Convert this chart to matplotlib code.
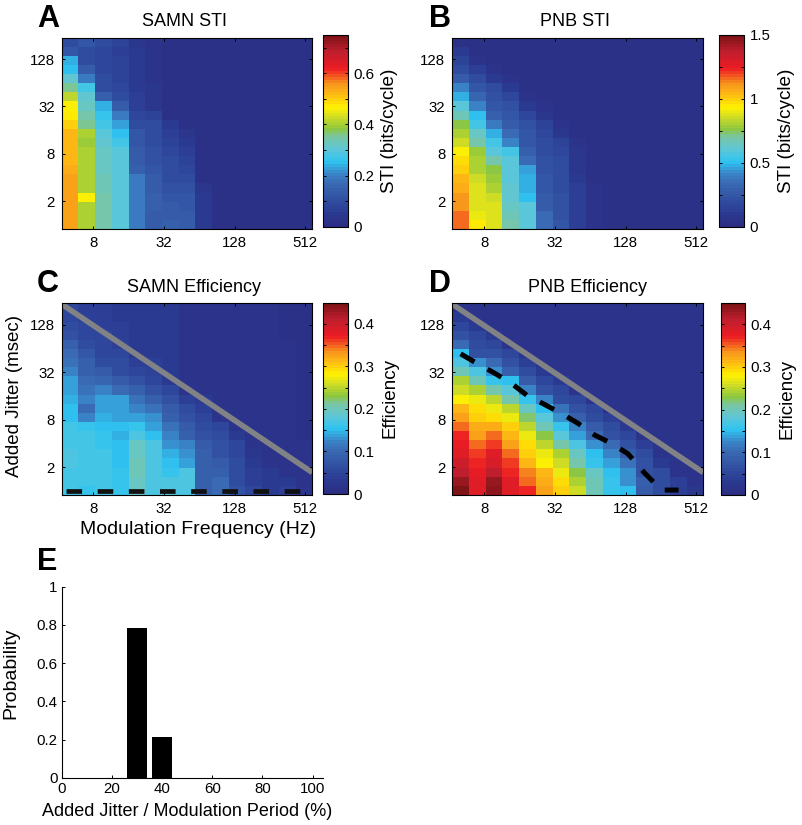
import numpy as np
import matplotlib
matplotlib.use('Agg')
import matplotlib.pyplot as plt
from matplotlib.colors import LinearSegmentedColormap
from matplotlib.ticker import NullLocator, FixedLocator, FixedFormatter

plt.rcParams['font.family'] = ['Liberation Sans', 'DejaVu Sans']

W, H = 803, 825

# heat map values, one list per frequency column, top row first
samn_sti = [
    [.10, .12, .24, .25, .31, .36, .42, .46, .48, .50, .52, .52, .52, .52, .53, .54, .55, .55, .55, .55, .55],
    [.12, .10, .10, .13, .19, .27, .31, .32, .34, .36, .40, .39, .41, .41, .41, .41, .41, .46, .41, .41, .41],
    [.10, .09, .09, .09, .10, .10, .15, .24, .26, .28, .30, .31, .32, .32, .32, .33, .33, .34, .35, .35, .35],
    [.08, .07, .08, .08, .08, .09, .10, .14, .19, .23, .25, .28, .30, .30, .30, .30, .30, .30, .30, .30, .30],
    [.04, .05, .05, .05, .05, .05, .06, .07, .09, .10, .12, .12, .13, .14, .15, .19, .19, .19, .19, .19, .19],
    [.03, .03, .03, .03, .03, .04, .04, .04, .08, .10, .10, .10, .11, .11, .12, .13, .14, .15, .15, .13, .13],
    [.02, .02, .02, .02, .02, .02, .02, .02, .02, .05, .07, .08, .09, .10, .10, .10, .11, .12, .13, .14, .15],
    [.02, .02, .02, .02, .02, .02, .02, .02, .02, .02, .04, .05, .07, .08, .09, .10, .11, .12, .12, .13, .14],
    [.02, .02, .02, .02, .02, .02, .02, .02, .02, .02, .02, .02, .02, .02, .02, .02, .04, .05, .05, .05, .05],
    [.02] * 21, [.02] * 21, [.02] * 21, [.02] * 21, [.02] * 21, [.02] * 21,
]
pnb_sti = [
    [.03, .10, .15, .20, .27, .42, .47, .60, .66, .75, .82, .86, .92, .97, 1.0, 1.04, 1.07, 1.11, 1.12, 1.16, 1.16],
    [.03, .04, .06, .13, .20, .25, .32, .42, .50, .55, .65, .70, .78, .80, .82, .85, .88, .89, .89, .90, .94],
    [.03, .03, .03, .05, .10, .20, .22, .24, .30, .38, .48, .55, .60, .68, .75, .78, .82, .85, .88, .88, .88],
    [.03, .03, .03, .03, .05, .10, .17, .22, .25, .28, .34, .42, .55, .60, .60, .60, .62, .63, .65, .67, .69],
    [.03, .03, .03, .03, .03, .03, .05, .10, .18, .22, .24, .25, .30, .35, .45, .47, .47, .50, .60, .60, .60],
    [.03, .03, .03, .03, .03, .03, .03, .05, .08, .15, .18, .20, .20, .22, .23, .25, .25, .27, .27, .33, .33],
    [.03, .03, .03, .03, .03, .03, .03, .03, .03, .05, .09, .16, .18, .19, .20, .20, .20, .22, .22, .23, .25],
    [.03, .03, .03, .03, .03, .03, .03, .03, .03, .03, .03, .06, .08, .08, .08, .10, .12, .12, .12, .13, .13],
    [.03, .03, .03, .03, .03, .03, .03, .03, .03, .03, .03, .03, .03, .03, .03, .03, .05, .05, .05, .06, .06],
    [.03] * 21, [.03] * 21, [.03] * 21, [.03] * 21, [.03] * 21, [.03] * 21,
]
samn_eff = [
    [.05, .05, .06, .07, .085, .10, .11, .12, .135, .14, .145, .15, .15, .165, .165, .165, .17, .175, .165, .165, .165],
    [.04, .04, .05, .05, .06, .075, .085, .09, .10, .11, .12, .10, .12, .155, .165, .165, .165, .165, .165, .165, .16],
    [.04, .04, .04, .05, .05, .055, .06, .08, .095, .125, .14, .14, .145, .15, .155, .16, .165, .165, .165, .165, .165],
    [.035, .035, .04, .04, .04, .05, .06, .06, .08, .10, .135, .14, .14, .15, .145, .15, .15, .15, .155, .16, .16],
    [.03, .03, .035, .035, .035, .035, .04, .05, .07, .09, .11, .12, .14, .155, .17, .19, .19, .20, .20, .195, .19],
    [.03, .03, .03, .03, .03, .035, .04, .045, .05, .07, .09, .11, .13, .14, .15, .17, .175, .175, .17, .17, .17],
    [.03, .03, .03, .03, .03, .03, .03, .03, .035, .05, .07, .08, .09, .11, .12, .13, .145, .15, .16, .17, .17],
    [.015, .015, .015, .015, .015, .015, .015, .015, .02, .02, .04, .06, .07, .08, .09, .12, .13, .14, .175, .175, .175],
    [.015, .015, .015, .015, .015, .015, .015, .015, .015, .015, .03, .04, .05, .06, .07, .08, .09, .09, .085, .085, .085],
    [.015, .015, .015, .015, .015, .015, .015, .015, .015, .015, .015, .015, .02, .05, .06, .07, .07, .08, .09, .10, .10],
    [.015, .015, .015, .015, .015, .015, .015, .015, .015, .015, .015, .015, .015, .02, .035, .05, .05, .06, .06, .06, .07],
    [.015, .015, .015, .015, .015, .015, .015, .015, .015, .015, .015, .015, .015, .015, .015, .02, .025, .03, .04, .04, .05],
    [.015, .015, .015, .015, .015, .015, .015, .015, .015, .015, .015, .015, .015, .015, .015, .015, .015, .02, .03, .035, .035],
    [.01, .01, .01, .01, .015, .015, .015, .015, .015, .015, .015, .015, .015, .015, .015, .015, .015, .015, .02, .03, .04],
    [.01, .01, .01, .01, .01, .01, .01, .01, .01, .01, .01, .01, .01, .01, .01, .015, .015, .015, .015, .015, .02],
]
pnb_eff = [
    [.02, .03, .05, .065, .10, .15, .17, .20, .24, .26, .28, .31, .33, .35, .37, .375, .385, .40, .41, .43, .45],
    [.015, .015, .03, .05, .06, .07, .13, .17, .20, .24, .27, .29, .30, .32, .33, .35, .36, .37, .375, .38, .38],
    [.015, .015, .015, .03, .05, .07, .10, .13, .16, .21, .25, .27, .29, .32, .35, .36, .38, .39, .41, .43, .44],
    [.015, .015, .015, .015, .02, .05, .07, .09, .15, .18, .21, .25, .27, .30, .31, .33, .35, .36, .37, .38, .38],
    [.015, .015, .015, .015, .015, .02, .04, .06, .08, .12, .16, .19, .22, .25, .27, .29, .30, .31, .34, .35, .37],
    [.015, .015, .015, .015, .015, .015, .02, .03, .05, .07, .12, .15, .18, .20, .23, .25, .27, .28, .31, .32, .33],
    [.015, .015, .015, .015, .015, .015, .015, .015, .03, .05, .06, .11, .13, .16, .18, .21, .24, .26, .27, .29, .30],
    [.015, .015, .015, .015, .015, .015, .015, .015, .015, .02, .05, .07, .09, .12, .14, .17, .19, .21, .23, .24, .26],
    [.015, .015, .015, .015, .015, .015, .015, .015, .015, .015, .02, .05, .06, .08, .10, .13, .15, .16, .19, .20, .20],
    [.015, .015, .015, .015, .015, .015, .015, .015, .015, .015, .015, .02, .04, .06, .07, .10, .12, .14, .15, .16, .16],
    [.015, .015, .015, .015, .015, .015, .015, .015, .015, .015, .015, .015, .015, .03, .05, .07, .08, .11, .13, .13, .15],
    [.015, .015, .015, .015, .015, .015, .015, .015, .015, .015, .015, .015, .015, .015, .02, .04, .06, .07, .07, .09, .08],
    [.015, .015, .015, .015, .015, .015, .015, .015, .015, .015, .015, .015, .015, .015, .015, .02, .02, .03, .06, .06, .06],
    [.015, .015, .015, .015, .015, .015, .015, .015, .015, .015, .015, .015, .015, .015, .015, .015, .015, .015, .02, .04, .04],
    [.015, .015, .015, .015, .015, .015, .015, .015, .015, .015, .015, .015, .015, .015, .015, .015, .015, .015, .015, .015, .025],
]

samn_thresh_freq = [4.7, 461]
samn_thresh_jitter = [1.0, 1.0]
pnb_thresh_freq = [5.06, 7.03, 9.75, 13.5, 18.8, 26, 36.2, 50.2, 69.7, 96.7, 134, 186, 258, 362]
pnb_thresh_jitter = [54.6, 41, 31.3, 23.4, 16, 12.5, 9.6, 7.2, 5.1, 4.0, 2.95, 1.68, 1.02, 1.02]

bar_x = [30, 40]
bar_p = [.785, .215]

freq_ticks = [8, 32, 128, 512]
jitter_ticks = [2, 8, 32, 128]

cmap = LinearSegmentedColormap.from_list('cmyk_jet', [
    (0.0, '#2b2e83'), (0.06, '#2b3990'), (0.12, '#2f4a9e'), (0.22, '#3a69b2'),
    (0.275, '#3a85c8'), (0.337, '#2ec4f1'), (0.4, '#5cc6d8'), (0.47, '#79c6a4'),
    (0.51, '#8cc63f'), (0.58, '#d7df23'), (0.625, '#fff200'), (0.695, '#fdb913'),
    (0.75, '#f7941d'), (0.83, '#ed1c24'), (0.92, '#be1e2d'), (1.0, '#7f1416')], N=64)

xedges = np.logspace(2.104, 9.198, 16, base=2)
yedges = np.logspace(-0.18, 7.9, 22, base=2)


def add_axes(left, top, right, bottom):
    return fig.add_axes([left / W, 1 - bottom / H, (right - left) / W, (bottom - top) / H])


def heatmap(cols, box, cbox, vmax, title, title_x, letter, letter_x, cticks, clabels, clabel, label_x):
    ax = add_axes(*box)
    z = np.array(cols).T[::-1]
    m = ax.pcolormesh(xedges, yedges, z, cmap=cmap, vmin=0, vmax=vmax, rasterized=True)
    ax.set_xscale('log', base=2)
    ax.set_yscale('log', base=2)
    ax.set_xlim(xedges[0], xedges[-1])
    ax.set_ylim(yedges[0], yedges[-1])
    ax.xaxis.set_major_locator(FixedLocator(freq_ticks))
    ax.xaxis.set_major_formatter(FixedFormatter([str(t) for t in freq_ticks]))
    ax.yaxis.set_major_locator(FixedLocator(jitter_ticks))
    ax.yaxis.set_major_formatter(FixedFormatter([str(t) for t in jitter_ticks]))
    ax.xaxis.set_minor_locator(NullLocator())
    ax.yaxis.set_minor_locator(NullLocator())
    ax.tick_params(direction='in', length=2.5, width=.7, top=True, right=True, labelsize=10.8, pad=5)
    for s in ax.spines.values():
        s.set_linewidth(.8)
    fig.text(title_x / W, 1 - (box[1] - 16) / H, title, fontsize=13, va='center', ha='center')
    fig.text(letter_x / W, 1 - (box[1] - 19) / H, letter, fontsize=22, fontweight='bold', va='center', ha='left')

    cax = add_axes(*cbox)
    cb = fig.colorbar(m, cax=cax)
    cb.set_ticks(cticks, labels=clabels)
    cb.ax.tick_params(direction='in', length=2.5, width=.7, labelsize=10.8, pad=4, left=True, right=True)
    cb.outline.set_linewidth(.8)
    fig.text(label_x / W, 1 - (cbox[1] + cbox[3]) / 2 / H, clabel, rotation=90, fontsize=13.6, va='center', ha='center')
    return ax


def jitter_limit(ax):
    # jitter equal to one modulation period
    f = np.array([xedges[0], xedges[-1]])
    ax.plot(f, 1000.0 / f, color='#808285', lw=4, solid_capstyle='butt')


fig = plt.figure(figsize=(W / 100, H / 100), dpi=100)

sti_a = [0, .1, .2, .3, .4, .5, .6, .7]
sti_b = [0, .25, .5, .75, 1, 1.25, 1.5]
eff = [0, .05, .1, .15, .2, .25, .3, .35, .4]
eff_labels = ['0', '', '0.1', '', '0.2', '', '0.3', '', '0.4']

heatmap(samn_sti, (61.7, 37.7, 312.3, 229), (322.7, 35, 347.7, 226.7), .75, 'SAMN STI', 185, 'A', 37,
        sti_a, ['0', '', '0.2', '', '0.4', '', '0.6', ''], 'STI (bits/cycle)', 390)
heatmap(pnb_sti, (452.3, 37.7, 703.3, 229), (719.3, 35, 744.3, 227), 1.5, 'PNB STI', 575, 'B', 429,
        sti_b, ['0', '', '0.5', '', '1', '', '1.5'], 'STI (bits/cycle)', 787)
ax_c = heatmap(samn_eff, (61.7, 303.3, 312.3, 495), (322.7, 302.7, 347.7, 494), .45, 'SAMN Efficiency', 194.5, 'C', 37,
               eff, eff_labels, 'Efficiency', 390)
ax_d = heatmap(pnb_eff, (452.3, 303.3, 703.3, 495), (720.7, 303, 745, 495), .45, 'PNB Efficiency', 587, 'D', 429,
               eff, eff_labels, 'Efficiency', 787)

for ax in (ax_c, ax_d):
    jitter_limit(ax)
ax_c.plot(samn_thresh_freq, samn_thresh_jitter, color='#111111', lw=3.4, linestyle=(0, (3.3, 3.3)))
ax_d.plot(pnb_thresh_freq, pnb_thresh_jitter, color='black', lw=3.6, linestyle=(0, (3.2, 3.0)))
fig.text(198 / W, 1 - 530 / H, 'Modulation Frequency (Hz)', fontsize=14, va='center', ha='center')
fig.text(15 / W, 1 - 396 / H, 'Added Jitter (msec)', fontsize=13.5, rotation=90, va='center', ha='center')

ax_e = add_axes(61.7, 586.7, 322.7, 777.7)
ax_e.bar(bar_x, bar_p, width=8.3, color='black')
ax_e.set_xlim(0, 104)
ax_e.set_ylim(0, 1)
ax_e.set_xticks([0, 20, 40, 60, 80, 100])
ax_e.set_yticks([0, .2, .4, .6, .8, 1])
ax_e.set_yticklabels(['0', '0.2', '0.4', '0.6', '0.8', '1'])
ax_e.spines['top'].set_visible(False)
ax_e.spines['right'].set_visible(False)
ax_e.tick_params(direction='in', length=2.5, width=.7, labelsize=10.8, pad=3)
fig.text(187 / W, 1 - 812 / H, 'Added Jitter / Modulation Period (%)', fontsize=13, va='center', ha='center')
fig.text(11 / W, 1 - 673 / H, 'Probability', fontsize=14, rotation=90, va='center', ha='center')
fig.text(37 / W, 1 - 562 / H, 'E', fontsize=22, fontweight='bold', va='center', ha='left')

fig.savefig('out.png', dpi=100)
